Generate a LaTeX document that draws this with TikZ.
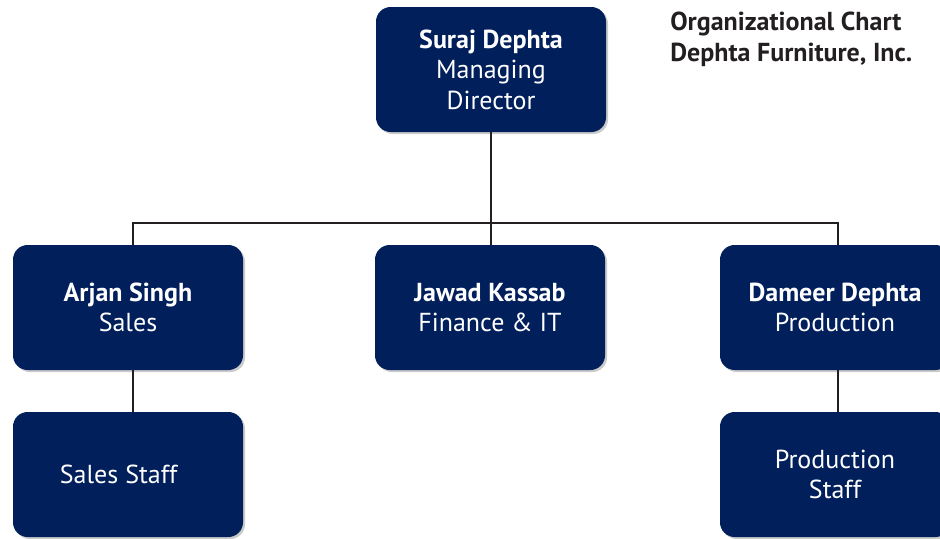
\documentclass[tikz,border=0pt]{standalone}
\usepackage{fontspec}
\setmainfont{PT Sans}
\usetikzlibrary{shapes,shadows,positioning}
\definecolor{navy}{HTML}{001F5B}
\definecolor{ink}{HTML}{231F20}
\tikzset{
  box/.style={rectangle, rounded corners=11pt, fill=navy, text=white,
    minimum width=172.5pt, minimum height=93.75pt, align=center,
    font=\fontsize{19.5}{22.8}\selectfont,
    drop shadow={shadow xshift=1.5pt, shadow yshift=-1.5pt, opacity=0.35, fill=black!60}},
  link/.style={draw=ink, line width=0.8pt}
}
\begin{document}
\begin{tikzpicture}[x=0.75pt,y=-0.75pt]
  \useasboundingbox (0,0) rectangle (940,539);

  \node[box] (suraj) at (491,69.5) {\textbf{Suraj Dephta}\\Managing\\Director};
  \node[box] (arjan) at (128,307.5) {\textbf{Arjan Singh}\\Sales};
  \node[box] (jawad) at (490,307.5) {\textbf{Jawad Kassab}\\Finance \& IT};
  \node[box] (dameer) at (835,307.5) {\textbf{Dameer Dephta}\\Production};
  \node[box] (salesstaff) at (128,474.5) {\hspace*{-14pt}Sales Staff};
  \node[box] (prodstaff) at (835,474.5) {Production\\Staff};

  \node[text=ink, align=left, anchor=north west, inner sep=0pt,
    font=\fontsize{19.5}{22.8}\selectfont\bfseries] (titolo) at (670,12)
    {Organizational Chart\\Dephta Furniture, Inc.};

  % Collegamenti
  \coordinate (bus) at (491,223);
  \draw[link] (suraj.south) -- (bus);
  \draw[link] (bus) -| ([xshift=3.75pt]arjan.north);
  \draw[link] (bus) -- (jawad.north -| bus);
  \draw[link] (bus) -| ([xshift=2.25pt]dameer.north);
  \draw[link] ([xshift=3.75pt]arjan.south) -- ([xshift=3.75pt]salesstaff.north);
  \draw[link] ([xshift=2.25pt]dameer.south) -- ([xshift=2.25pt]prodstaff.north);
\end{tikzpicture}
\end{document}
